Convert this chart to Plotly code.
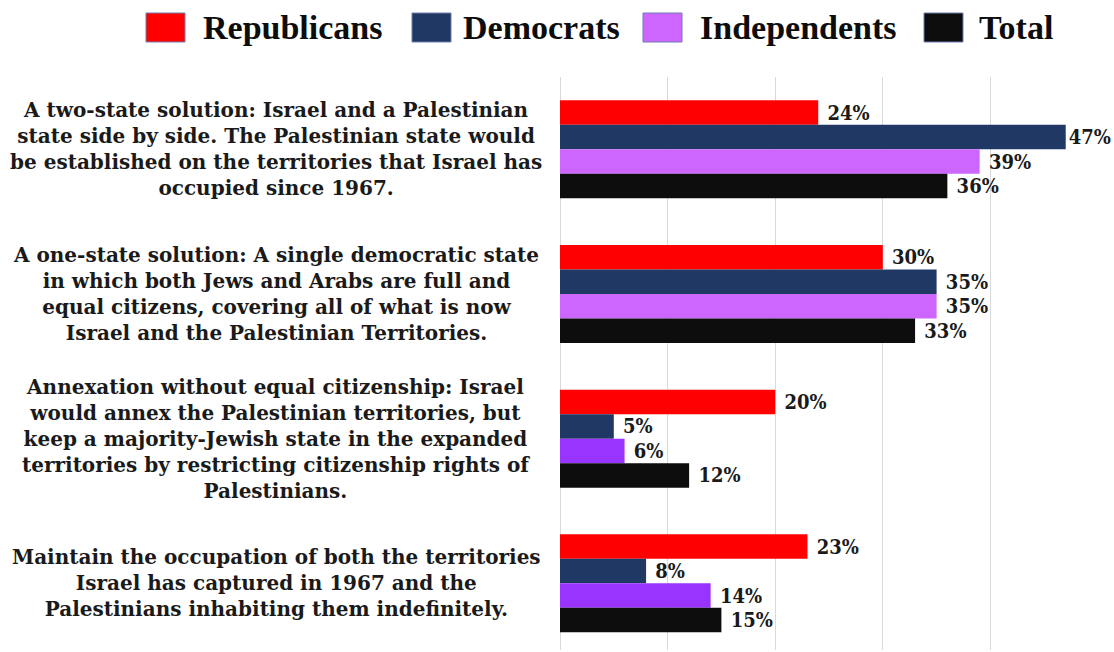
import plotly.graph_objects as go

# Survey answer options (one group of bars each)
categories = [
    "A two-state solution: Israel and a Palestinian<br>state side by side. The Palestinian state would<br>be established on the territories that Israel has<br>occupied since 1967.",
    "A one-state solution: A single democratic state<br>in which both Jews and Arabs are full and<br>equal citizens, covering all of what is now<br>Israel and the Palestinian Territories.",
    "Annexation without equal citizenship: Israel<br>would annex the Palestinian territories, but<br>keep a majority-Jewish state in the expanded<br>territories by restricting citizenship rights of<br>Palestinians.",
    "Maintain the occupation of both the territories<br>Israel has captured in 1967 and the<br>Palestinians inhabiting them indefinitely.",
]

series_names = ["Republicans", "Democrats", "Independents", "Total"]
republicans = [24, 30, 20, 23]
democrats = [47, 35, 5, 8]
independents = [39, 35, 6, 14]
total = [36, 33, 12, 15]

series_values = [republicans, democrats, independents, total]
series_colors = [
    "#ff0000",
    "#203864",
    ["#cc66ff", "#cc66ff", "#9933ff", "#9933ff"],
    "#0d0d0d",
]
legend_colors = ["#ff0000", "#203864", "#cc66ff", "#0d0d0d"]

X_MAX = 50
CAT_FONT = "DejaVu Serif, serif"
VALUE_FONT = "DejaVu Serif Condensed, DejaVu Serif, serif"
LEGEND_FONT = "Liberation Serif, Times New Roman, serif"

W, H = 1114, 652
M_L, M_R, M_T, M_B = 560, 16, 77, 2
PLOT_W = W - M_L - M_R
PLOT_H = H - M_T - M_B


def px_to_paper_x(px):
    return (px - M_L) / PLOT_W


def px_to_paper_y(py):
    return (H - M_B - py) / PLOT_H


def value_label(v):
    # long bars leave no room for the usual gap before the label
    pad = "" if v > 0.9 * X_MAX else "\u00a0"
    return f"{pad}{v}%"


fig = go.Figure()
for name, vals, color in zip(series_names, series_values, series_colors):
    fig.add_trace(go.Bar(
        name=name,
        y=categories,
        x=vals,
        orientation="h",
        marker=dict(color=color, line=dict(width=0)),
        text=[value_label(v) for v in vals],
        textposition="outside",
        textfont=dict(family=VALUE_FONT, size=20, color="#1a1a1a", weight=700),
        cliponaxis=False,
        constraintext="none",
        showlegend=False,
        hoverinfo="skip",
    ))

annotations = []
for cat in categories:
    annotations.append(dict(
        x=px_to_paper_x(276), xref="paper", xanchor="center",
        y=cat, yref="y", yanchor="middle",
        text=cat, showarrow=False, align="center",
        font=dict(family=CAT_FONT, size=20, color="#1a1a1a", weight=700),
    ))

# Legend row across the top
legend_boxes = [(146, 185), (412, 451), (643, 682), (924, 963)]
legend_text_x = [201, 461, 698, 977]
shapes = []
for (x0, x1), tx, name, color in zip(legend_boxes, legend_text_x, series_names, legend_colors):
    shapes.append(dict(
        type="rect", xref="paper", yref="paper",
        x0=px_to_paper_x(x0), x1=px_to_paper_x(x1),
        y0=px_to_paper_y(42), y1=px_to_paper_y(13),
        fillcolor=color, line=dict(color="#6f7fb0", width=1),
    ))
    annotations.append(dict(
        x=px_to_paper_x(tx), xref="paper", xanchor="left",
        y=px_to_paper_y(28), yref="paper", yanchor="middle",
        text=name, showarrow=False,
        font=dict(family=LEGEND_FONT, size=34, color="#0d0d0d", weight=700),
    ))

unit_px = 144.67
span = PLOT_H / unit_px

fig.update_layout(
    width=W, height=H,
    margin=dict(l=M_L, r=M_R, t=M_T, b=M_B),
    paper_bgcolor="white", plot_bgcolor="white",
    barmode="group", bargap=0.323, bargroupgap=0,
    showlegend=False,
    shapes=shapes,
    annotations=annotations,
    xaxis=dict(
        range=[0, X_MAX], tick0=0, dtick=10,
        showgrid=True, gridcolor="#d9d9d9", gridwidth=1,
        zeroline=True, zerolinecolor="#d9d9d9", zerolinewidth=1,
        showticklabels=False, showline=False, ticks="",
    ),
    yaxis=dict(
        categoryorder="array", categoryarray=categories,
        range=[-0.5 + span, -0.5], autorange=False,
        showticklabels=False, showgrid=False, zeroline=False, ticks="",
    ),
)

fig.write_html("out.html")
